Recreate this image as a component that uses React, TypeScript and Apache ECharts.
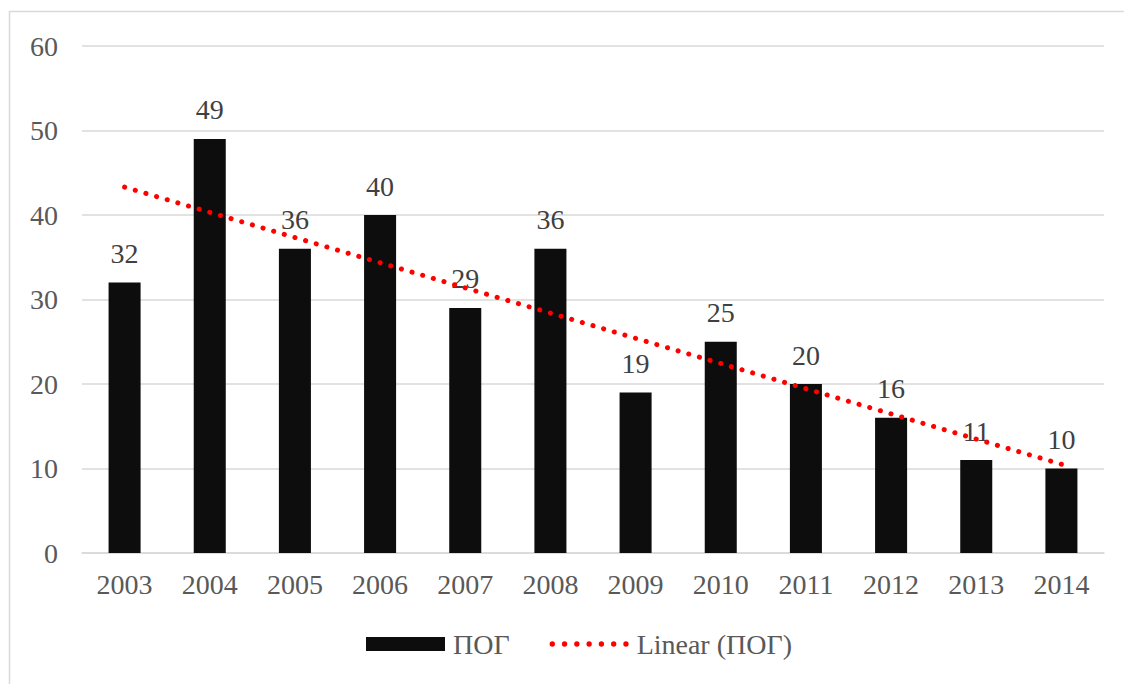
import React, { useEffect, useRef } from "react";
import * as echarts from "echarts";

const years = ["2003", "2004", "2005", "2006", "2007", "2008", "2009", "2010", "2011", "2012", "2013", "2014"];
const pogValues = [32, 49, 36, 40, 29, 36, 19, 25, 20, 16, 11, 10];
// Linear trendline endpoints (first and last year)
const trendValues: (number | null)[] = [43.3, null, null, null, null, null, null, null, null, null, null, 10.5];
const yTicks = { min: 0, max: 60, interval: 10 };

const FONT = "Times New Roman, Liberation Serif, serif";
const FS = 28;

function dotsIcon(): string {
  const r = 2.5;
  let d = "";
  for (let i = 0; i < 7; i++) {
    const cx = r + i * 11.5;
    d += `M${cx - r} ${r}a${r} ${r} 0 1 0 ${2 * r} 0a${r} ${r} 0 1 0 ${-2 * r} 0Z`;
  }
  return "path://" + d;
}

export default function App() {
  const ref = useRef<HTMLDivElement>(null);
  useEffect(() => {
    if (!ref.current) return;
    const chart = echarts.init(ref.current, undefined, { renderer: "svg" });
    chart.setOption({
      animation: false,
      backgroundColor: "#ffffff",
      textStyle: { fontFamily: FONT },
      graphic: [
        {
          type: "rect",
          shape: { x: 9.5, y: 11.5, width: 1130, height: 700 },
          style: { fill: "none", stroke: "#d9d9d9", lineWidth: 1.5 },
          silent: true,
          z: -1,
        },
      ],
      grid: { left: 82, right: 20, top: 46, bottom: 131, containLabel: false },
      legend: {
        bottom: 21,
        left: 361,
        itemWidth: 79,
        itemHeight: 14,
        itemGap: 40,
        textStyle: { fontFamily: FONT, fontSize: FS, color: "#595959", padding: [0, 0, 0, 3] },
        data: [
          { name: "ПОГ", icon: "rect" },
          { name: "Linear (ПОГ)", icon: dotsIcon(), itemStyle: { color: "#ff0000" } },
        ],
      },
      xAxis: {
        type: "category",
        data: years,
        axisLine: { lineStyle: { color: "#d9d9d9", width: 1.5 } },
        axisTick: { show: false },
        axisLabel: { fontFamily: FONT, fontSize: FS, color: "#595959", margin: 17 },
      },
      yAxis: {
        type: "value",
        min: yTicks.min,
        max: yTicks.max,
        interval: yTicks.interval,
        axisLine: { show: false },
        axisTick: { show: false },
        splitLine: { lineStyle: { color: "#d9d9d9", width: 1.5 } },
        axisLabel: { fontFamily: FONT, fontSize: FS, color: "#595959", margin: 24 },
      },
      series: [
        {
          name: "ПОГ",
          type: "bar",
          data: pogValues,
          barWidth: "37.6%",
          itemStyle: { color: "#0d0d0d" },
          label: {
            show: true,
            position: "top",
            distance: 15,
            fontFamily: FONT,
            fontSize: FS,
            color: "#404040",
          },
          z: 2,
        },
        {
          name: "Linear (ПОГ)",
          type: "line",
          data: trendValues,
          connectNulls: true,
          symbol: "none",
          showSymbol: false,
          lineStyle: { color: "#ff0000", width: 5, type: [0.1, 11], cap: "round" },
          itemStyle: { color: "#ff0000" },
          z: 3,
        },
      ],
    });
    return () => chart.dispose();
  }, []);
  return (
    <div
      ref={ref}
      style={{ position: "absolute", left: 0, top: 0, width: 1124, height: 684 }}
    />
  );
}
